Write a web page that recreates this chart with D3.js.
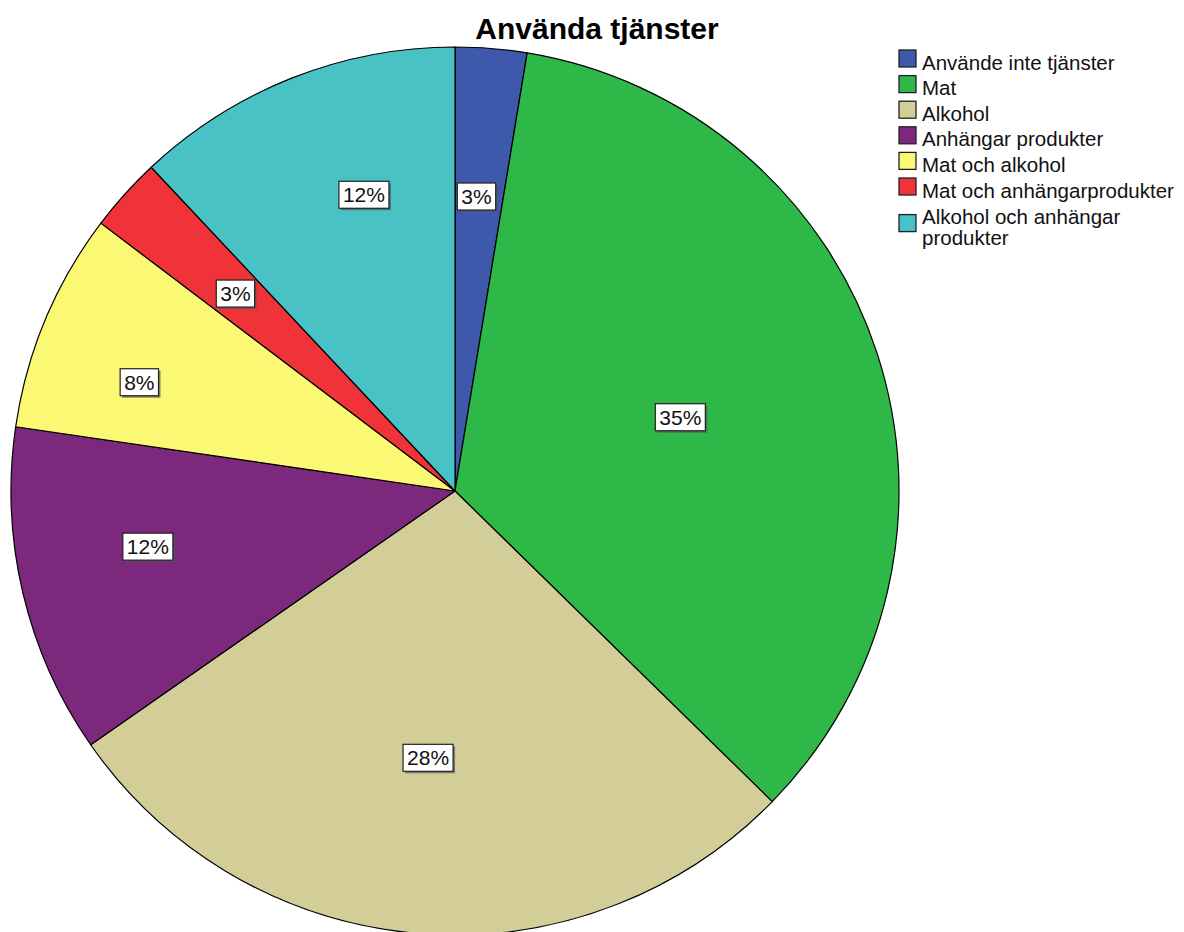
<!DOCTYPE html>
<html><head><meta charset="utf-8">
<script src="https://cdn.jsdelivr.net/npm/d3@7"></script>
<style>body{margin:0;background:#fff}svg{display:block}</style>
</head><body>
<script>
const categories = ["Använde inte tjänster","Mat","Alkohol","Anhängar produkter","Mat och alkohol","Mat och anhängarprodukter","Alkohol och anhängar produkter"];
const values = [2.6, 34.75, 28.0, 12.0, 8.0, 2.7, 12.0];
const colors = ["#3E58AC","#2EB848","#D3CE97","#7C287D","#FBF873","#EF3338","#48C2C5"];
const legendLines = [["Använde inte tjänster"],["Mat"],["Alkohol"],["Anhängar produkter"],["Mat och alkohol"],["Mat och anhängarprodukter"],["Alkohol och anhängar","produkter"]];
const title = "Använda tjänster";
// label placement (layout, not data): radius as a fraction of the pie radius, angular nudge in degrees
const labelRadiusFrac = [0.665, 0.534, 0.604, 0.703, 0.752, 0.665, 0.698];
const labelAngleNudge = [-0.5, 0, 1, 3, -3.7, 0, 4.5];

const W = 1184, H = 932;
const cx = 455, cy = 491, R = 444;
const svg = d3.select("body").append("svg").attr("width", W).attr("height", H);
const font = "'Liberation Sans', Arial, sans-serif";

svg.append("text").attr("x", 597).attr("y", 39).attr("text-anchor","middle")
  .attr("font-family", font).attr("font-weight","bold").attr("font-size", 30)
  .attr("fill","#000").text(title);

const data = categories.map((c,i)=>({c, v: values[i], col: colors[i], lr: labelRadiusFrac[i], ln: labelAngleNudge[i]}));
const total = d3.sum(values);
const pie = d3.pie().value(d=>d.v).sort(null);
const arcs = pie(data);
const arc = d3.arc().innerRadius(0).outerRadius(R);
const g = svg.append("g").attr("transform", `translate(${cx},${cy})`);
g.selectAll("path").data(arcs).join("path")
  .attr("d", arc).attr("fill", d=>d.data.col)
  .attr("stroke","#000").attr("stroke-width",1.2).attr("stroke-linejoin","round");

const lg = g.append("g");
arcs.forEach(a=>{
  const mid = (a.startAngle + a.endAngle)/2 + a.data.ln*Math.PI/180;
  const rc = a.data.lr * R;
  const x = rc*Math.sin(mid), y = -rc*Math.cos(mid);
  const txt = Math.round(a.data.v/total*100) + "%";
  const t = lg.append("text").attr("x", x).attr("y", y).attr("text-anchor","middle")
    .attr("dominant-baseline","central").attr("font-family", font).attr("font-size", 21)
    .attr("fill","#111").text(txt);
  const bb = t.node().getBBox();
  const pw = 4, ph = 2;
  lg.insert("rect", () => t.node())
    .attr("x", bb.x - pw + 2).attr("y", bb.y - ph + 2).attr("width", bb.width + 2*pw).attr("height", bb.height + 2*ph)
    .attr("fill","#555").attr("opacity",0.7);
  lg.insert("rect", () => t.node())
    .attr("x", bb.x - pw).attr("y", bb.y - ph).attr("width", bb.width + 2*pw).attr("height", bb.height + 2*ph)
    .attr("fill","#fff").attr("stroke","#222").attr("stroke-width",1.2);
});

const leg = svg.append("g");
let ly = 62;
legendLines.forEach((lines,i)=>{
  const n = lines.length;
  if (n > 1) ly += 0.5;
  const blockMid = ly + (n-1)*10.5;
  leg.append("rect").attr("x", 899).attr("y", blockMid - 3.5 - 8.5).attr("width", 17).attr("height", 17)
    .attr("fill", colors[i]).attr("stroke","#222").attr("stroke-width",1.3);
  lines.forEach((l,j)=>{
    leg.append("text").attr("x", 922).attr("y", ly + j*21).attr("dominant-baseline","central")
      .attr("font-family", font).attr("font-size", 20.5).attr("fill","#111").text(l);
  });
  ly += 25.6 + (n-1)*21;
});
</script>
</body></html>
